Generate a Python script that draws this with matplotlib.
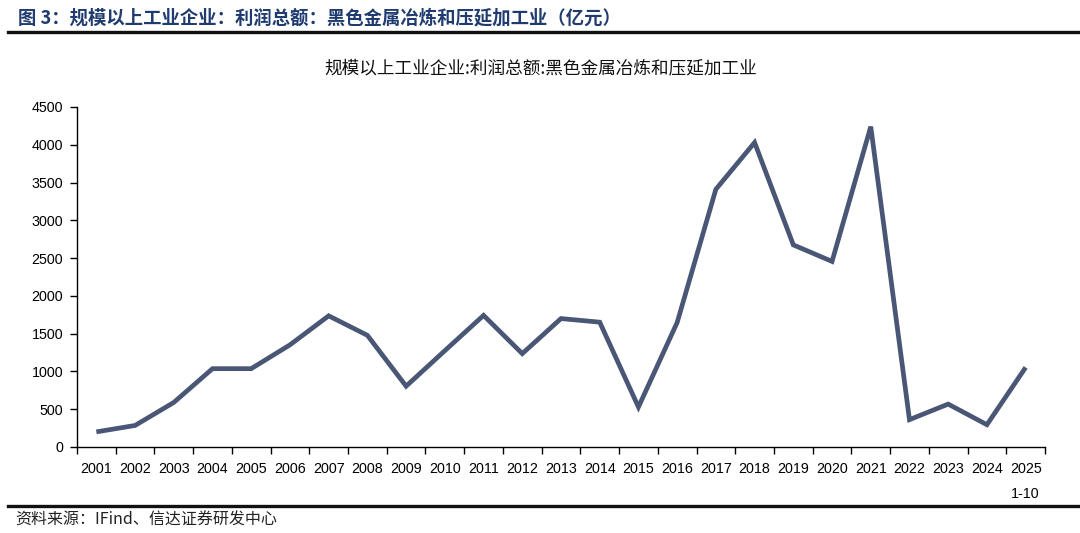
import matplotlib
matplotlib.use("Agg")
import matplotlib.pyplot as plt
import numpy as np

plt.rcParams['font.family'] = ['Liberation Sans', 'Noto Sans CJK SC', 'DejaVu Sans']

years = ['2001', '2002', '2003', '2004', '2005', '2006', '2007', '2008', '2009', '2010',
         '2011', '2012', '2013', '2014', '2015', '2016', '2017', '2018', '2019', '2020',
         '2021', '2022', '2023', '2024', '2025\n1-10']
profit = [200, 285, 590, 1037, 1037, 1352, 1736, 1478, 805, 1275,
          1742, 1236, 1700, 1652, 529, 1648, 3411, 4030, 2675, 2456,
          4240, 362, 568, 295, 1053]

header = '图 3：规模以上工业企业：利润总额：黑色金属冶炼和压延加工业（亿元）'
title = '规模以上工业企业:利润总额:黑色金属冶炼和压延加工业'
source = '资料来源：IFind、信达证券研发中心'

cjk = ['Noto Sans CJK SC', 'DejaVu Sans']

fig = plt.figure(figsize=(10.8, 5.33), dpi=100)
ax = fig.add_axes([77/1080, 1-447/533, 968/1080, 340/533])

x = np.arange(len(years))
ax.plot(x, profit, color='#4a5675', lw=3.4, solid_joinstyle='miter', solid_capstyle='butt')

ax.set_xlim(-0.5, len(years) - 0.5)
ax.set_ylim(0, 4500)
ax.set_yticks(np.arange(0, 4501, 500))
ax.set_xticks(x)
ax.set_xticklabels(years, fontsize=10.3, ha='center', linespacing=2.0)
ax.set_xticks(np.arange(-0.5, len(years), 1), minor=True)
ax.tick_params(axis='x', which='major', length=0, pad=11)
ax.tick_params(axis='x', which='minor', length=5, width=1, direction='out')
ax.tick_params(axis='y', length=5, width=1, direction='out', labelsize=10.3, pad=5)
for s in ['top', 'right']:
    ax.spines[s].set_visible(False)
ax.spines['left'].set_linewidth(1)
ax.spines['bottom'].set_linewidth(1)

fig.text(18/1080, 1-18/533, header, fontsize=13.2, fontweight='bold', color='#1f3b70',
         va='center', ha='left', family=cjk)
fig.add_artist(plt.Line2D([8/1080, 1], [1-32/533, 1-32/533], color='#111111', lw=2.4))
fig.text(541/1080, 1-68/533, title, fontsize=12.7, color='#111111', va='center', ha='center',
         family=cjk)
fig.add_artist(plt.Line2D([8/1080, 1], [1-506/533, 1-506/533], color='#111111', lw=2.4))
fig.text(15/1080, 1-520/533, source, fontsize=11.5, color='#222222', va='center', ha='left',
         style='italic', family=cjk)

fig.savefig('out.png', dpi=100)
